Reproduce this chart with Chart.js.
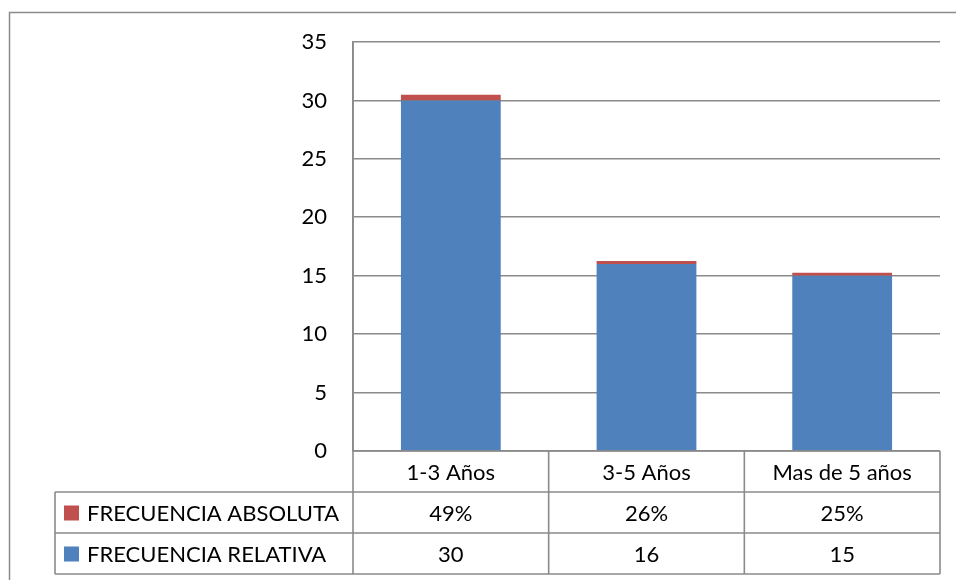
<!DOCTYPE html>
<html>
<head>
<meta charset="utf-8">
<script src="https://cdn.jsdelivr.net/npm/chart.js@4.4.1/dist/chart.umd.min.js"></script>
<style>
html,body{margin:0;padding:0;background:#fff;}
#wrap{width:956px;height:580px;position:relative;}
</style>
</head>
<body>
<div id="wrap"><canvas id="c" width="956" height="580"></canvas></div>
<script>
const categories = ['1-3 Años', '3-5 Años', 'Mas de 5 años'];
const relativa = [30, 16, 15];
const absoluta = [0.49, 0.26, 0.25];
const absolutaLabels = ['49%', '26%', '25%'];
const seriesNames = ['FRECUENCIA ABSOLUTA', 'FRECUENCIA RELATIVA'];
const yMin = 0, yMax = 35, yStep = 5;

const FONT = 'Lato, "Open Sans", sans-serif';
const BLUE = '#4F81BD', RED = '#C0504D', LINE = '#8a8a8a';

const tablePlugin = {
  id: 'dataTable',
  afterDraw(chart) {
    const ctx = chart.ctx;
    const ca = chart.chartArea;
    const xs = chart.scales.x;
    const n = categories.length;
    const colW = (ca.right - ca.left) / n;
    const rowH = 41;
    const r0 = ca.bottom, r1 = r0 + rowH, r2 = r1 + rowH, r3 = r2 + rowH;
    const legLeft = 55;
    ctx.save();
    // outer frame
    ctx.strokeStyle = LINE;
    ctx.lineWidth = 1.5;
    ctx.beginPath();
    ctx.moveTo(9.5, 580); ctx.lineTo(9.5, 12.5); ctx.lineTo(956, 12.5);
    ctx.stroke();
    // table lines
    ctx.lineWidth = 1.6;
    ctx.beginPath();
    // horizontal
    ctx.moveTo(ca.left, r0); ctx.lineTo(ca.right, r0);
    ctx.moveTo(legLeft, r1); ctx.lineTo(ca.right, r1);
    ctx.moveTo(legLeft, r2); ctx.lineTo(ca.right, r2);
    ctx.moveTo(legLeft, r3); ctx.lineTo(ca.right, r3);
    // verticals
    ctx.moveTo(legLeft, r1); ctx.lineTo(legLeft, r3);
    for (let i = 0; i <= n; i++) {
      const x = ca.left + i * colW;
      ctx.moveTo(x, i === 0 ? ca.top : r0); ctx.lineTo(x, r3);
    }
    ctx.stroke();
    // text
    ctx.fillStyle = '#000';
    ctx.font = '22px ' + FONT;
    ctx.textAlign = 'center';
    ctx.textBaseline = 'middle';
    for (let i = 0; i < n; i++) {
      const cx = xs.getPixelForValue(i);
      ctx.fillText(categories[i], cx, (r0 + r1) / 2 + 1);
      ctx.fillText(absolutaLabels[i], cx, (r1 + r2) / 2 + 1);
      ctx.fillText(String(relativa[i]), cx, (r2 + r3) / 2 + 1);
    }
    // legend keys
    ctx.textAlign = 'left';
    ctx.fillStyle = RED;
    ctx.fillRect(64, (r1 + r2) / 2 - 7, 15, 15);
    ctx.fillStyle = BLUE;
    ctx.fillRect(64, (r2 + r3) / 2 - 7, 15, 15);
    ctx.fillStyle = '#000';
    ctx.fillText(seriesNames[0], 87, (r1 + r2) / 2 + 1);
    ctx.fillText(seriesNames[1], 87, (r2 + r3) / 2 + 1);
    ctx.restore();
  }
};

new Chart(document.getElementById('c'), {
  type: 'bar',
  data: {
    labels: categories,
    datasets: [
      { label: seriesNames[1], data: relativa, backgroundColor: BLUE, borderWidth: 0 },
      { label: seriesNames[0], data: absoluta, backgroundColor: RED, borderWidth: 0 }
    ]
  },
  options: {
    responsive: false,
    animation: false,
    devicePixelRatio: 1,
    layout: { padding: { top: 42, right: 16, bottom: 129, left: 0 } },
    plugins: { legend: { display: false }, tooltip: { enabled: false } },
    datasets: { bar: { categoryPercentage: 1, barPercentage: 0.51 } },
    scales: {
      x: {
        stacked: true,
        display: false
      },
      y: {
        stacked: true,
        min: yMin, max: yMax,
        border: { display: true, color: LINE, width: 1.6 },
        grid: { color: LINE, lineWidth: 1.6, drawTicks: false },
        ticks: { stepSize: yStep, padding: 26, color: '#000', font: { family: FONT, size: 22 } },
        afterFit(s) { s.width = 353; }
      }
    }
  },
  plugins: [tablePlugin]
});
</script>
</body>
</html>
